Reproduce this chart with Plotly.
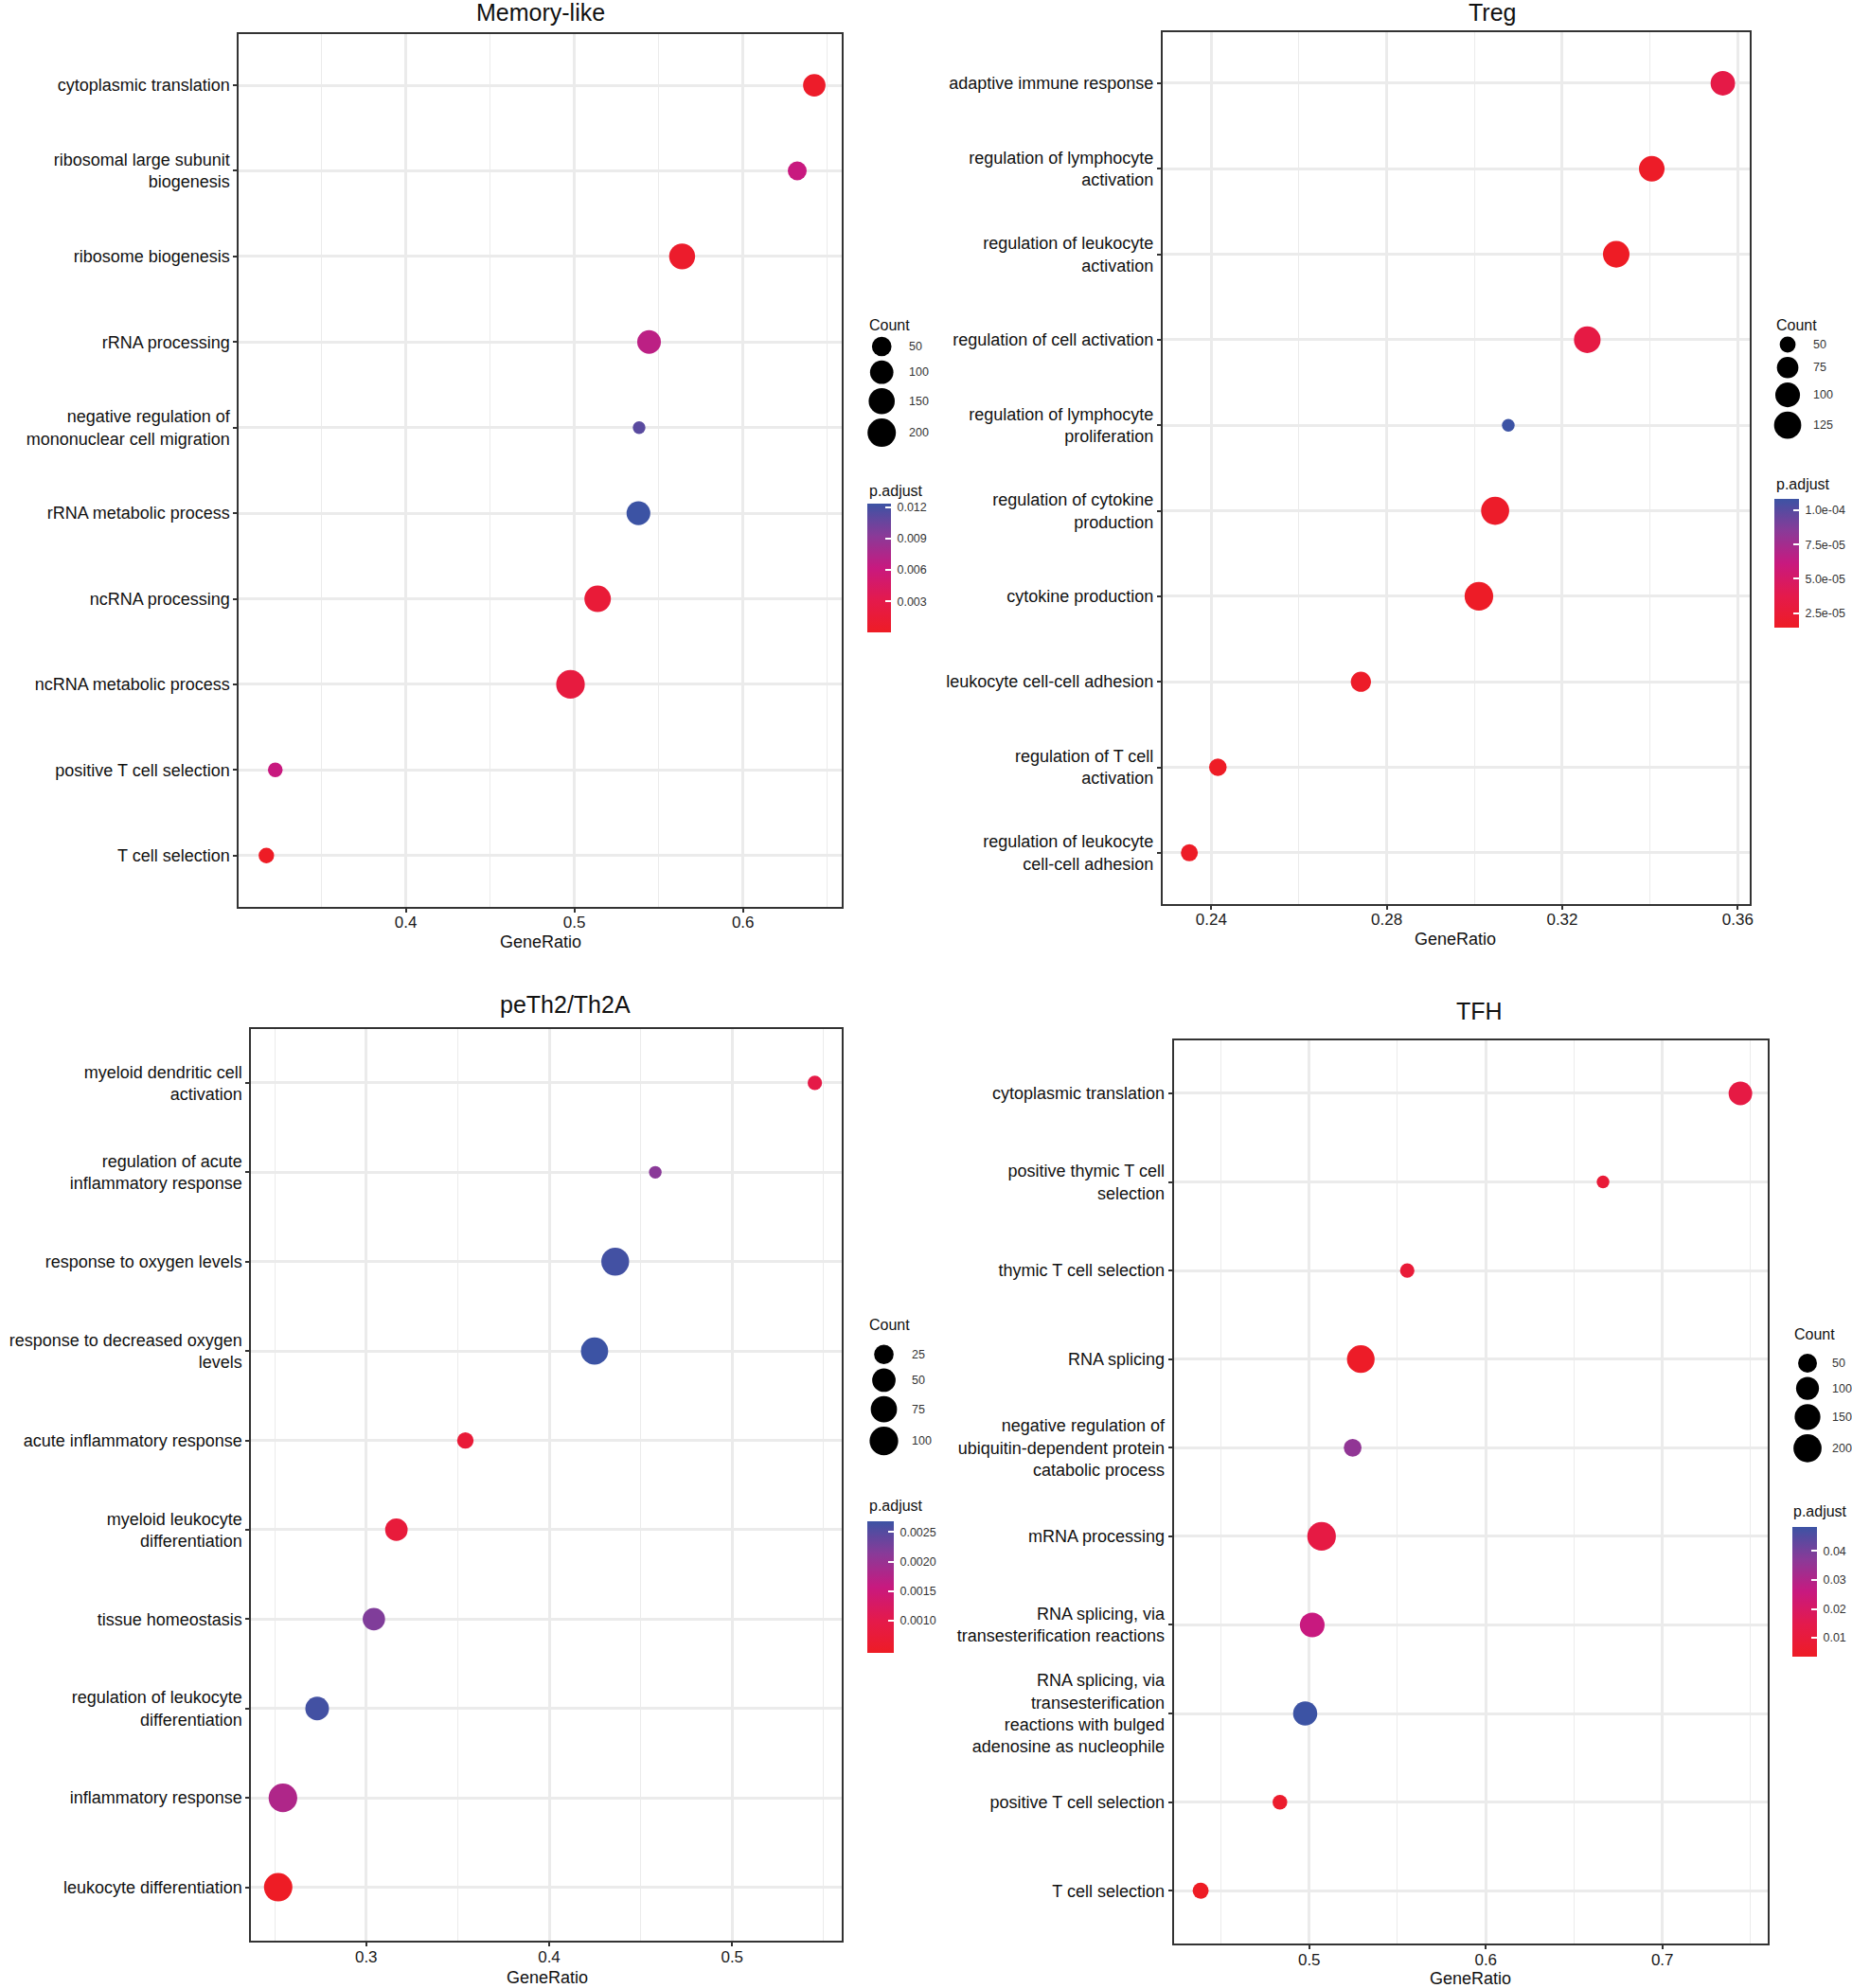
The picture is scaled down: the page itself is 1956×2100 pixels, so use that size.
import plotly.graph_objects as go

W, H = 1956, 2100
FONT = "Liberation Sans"

# ---- data ----
mem_terms = ["cytoplasmic translation", "ribosomal large subunit<br>biogenesis",
             "ribosome biogenesis", "rRNA processing",
             "negative regulation of<br>mononuclear cell migration",
             "rRNA metabolic process", "ncRNA processing", "ncRNA metabolic process",
             "positive T cell selection", "T cell selection"]
mem_ratio = [0.6423, 0.6322, 0.5639, 0.5443, 0.5384, 0.5380, 0.5138, 0.4977, 0.3226, 0.3173]
mem_count = [86, 43, 148, 105, 14, 107, 158, 205, 17, 20]
mem_padj = [0.0004, 0.0062, 0.0006, 0.0068, 0.0112, 0.01236, 0.0015, 0.0021, 0.0062, 0.00002]

treg_terms = ["adaptive immune response", "regulation of lymphocyte<br>activation",
              "regulation of leukocyte<br>activation", "regulation of cell activation",
              "regulation of lymphocyte<br>proliferation", "regulation of cytokine<br>production",
              "cytokine production", "leukocyte cell-cell adhesion",
              "regulation of T cell<br>activation", "regulation of leukocyte<br>cell-cell adhesion"]
treg_ratio = [0.3566, 0.3404, 0.3323, 0.3257, 0.3077, 0.3047, 0.3010, 0.2741, 0.2415, 0.2350]
treg_count = [98, 108, 118, 119, 46, 135, 141, 67, 55, 53]
treg_padj = [3.5e-5, 1.65e-5, 1.46e-5, 3.3e-5, 1.085e-4, 1.75e-5, 1.6e-5, 1.7e-5, 1.55e-5, 1.6e-5]

th2_terms = ["myeloid dendritic cell<br>activation", "regulation of acute<br>inflammatory response",
             "response to oxygen levels", "response to decreased oxygen<br>levels",
             "acute inflammatory response", "myeloid leukocyte<br>differentiation",
             "tissue homeostasis", "regulation of leukocyte<br>differentiation",
             "inflammatory response", "leukocyte differentiation"]
th2_ratio = [0.5452, 0.4580, 0.4361, 0.4248, 0.3542, 0.3165, 0.3042, 0.2732, 0.2545, 0.2519]
th2_count = [9, 8, 91, 85, 13, 43, 42, 52, 100, 98]
th2_padj = [0.00094, 0.00213, 0.00264, 0.002687, 0.00072, 0.00076, 0.0022, 0.00264, 0.00179, 0.00045]

tfh_terms = ["cytoplasmic translation", "positive thymic T cell<br>selection",
             "thymic T cell selection", "RNA splicing",
             "negative regulation of<br>ubiquitin-dependent protein<br>catabolic process",
             "mRNA processing", "RNA splicing, via<br>transesterification reactions",
             "RNA splicing, via<br>transesterification<br>reactions with bulged<br>adenosine as nucleophile",
             "positive T cell selection", "T cell selection"]
tfh_ratio = [0.7442, 0.6664, 0.5555, 0.5292, 0.5246, 0.5070, 0.5017, 0.4977, 0.4834, 0.4385]
tfh_count = [110, 21, 23, 190, 40, 211, 130, 120, 24, 29]
tfh_padj = [0.0124, 0.0088, 0.0088, 0.0044, 0.0357, 0.0124, 0.0258, 0.0482, 0.0057, 0.00346]

mem_count_breaks = [50, 100, 150, 200]
treg_count_breaks = [50, 75, 100, 125]
th2_count_breaks = [25, 50, 75, 100]
tfh_count_breaks = [50, 100, 150, 200]

mem_padj_ticks = [0.003, 0.006, 0.009, 0.012]
mem_padj_labels = ["0.003", "0.006", "0.009", "0.012"]
treg_padj_ticks = [2.5e-5, 5.0e-5, 7.5e-5, 1.0e-4]
treg_padj_labels = ["2.5e-05", "5.0e-05", "7.5e-05", "1.0e-04"]
th2_padj_ticks = [0.0010, 0.0015, 0.0020, 0.0025]
th2_padj_labels = ["0.0010", "0.0015", "0.0020", "0.0025"]
tfh_padj_ticks = [0.01, 0.02, 0.03, 0.04]
tfh_padj_labels = ["0.01", "0.02", "0.03", "0.04"]

# ---- layout (pixel positions in the 1956x2100 page) ----
panels = [
    dict(title="Memory-like", terms=mem_terms, ratio=mem_ratio, count=mem_count, padj=mem_padj,
         breaks=mem_count_breaks, cticks=mem_padj_ticks, clabels=mem_padj_labels, dtick=0.1,
         box=(252.5, 35.8, 889.4, 958), title_xy=(571.6, 13), xlab_xy=(571, 995),
         count_xy=(916, 343), key_x=931.7, key_y0=366, lab_x=958,
         padj_xy=(916, 518), cbar=(915.7, 532, 941, 668)),
    dict(title="Treg", terms=treg_terms, ratio=treg_ratio, count=treg_count, padj=treg_padj,
         breaks=treg_count_breaks, cticks=treg_padj_ticks, clabels=treg_padj_labels, dtick=0.04,
         box=(1228.6, 33.8, 1848.7, 955), title_xy=(1576.8, 13), xlab_xy=(1538, 992),
         count_xy=(1875, 343.3), key_x=1889, key_y0=364, lab_x=1914,
         padj_xy=(1875, 511.7), cbar=(1874, 526.7, 1900, 662.7)),
    dict(title="peTh2/Th2A", terms=th2_terms, ratio=th2_ratio, count=th2_count, padj=th2_padj,
         breaks=th2_count_breaks, cticks=th2_padj_ticks, clabels=th2_padj_labels, dtick=0.1,
         box=(265.6, 1087.3, 889.4, 2050.2), title_xy=(597, 1060.7), xlab_xy=(578, 2089),
         count_xy=(916.7, 1399), key_x=934, key_y0=1430.7, lab_x=961.7,
         padj_xy=(916, 1590), cbar=(916, 1606.7, 944.3, 1746)),
    dict(title="TFH", terms=tfh_terms, ratio=tfh_ratio, count=tfh_count, padj=tfh_padj,
         breaks=tfh_count_breaks, cticks=tfh_padj_ticks, clabels=tfh_padj_labels, dtick=0.1,
         box=(1240.2, 1098.8, 1867.6, 2053.4), title_xy=(1563, 1068.4), xlab_xy=(1554, 2090),
         count_xy=(1894, 1409), key_x=1910, key_y0=1440, lab_x=1934,
         padj_xy=(1893, 1596.7), cbar=(1893.3, 1613.3, 1919.3, 1750)),
]

DMIN, DMAX = 13.4, 30.2   # dot diameter range in px
KEY_GAP = 4.5
GRID = "#EBEBEB"
LINE = "#333333"
SCALE = [[0.0, "#EE1C25"], [0.25, "#E41A4C"], [0.5, "#C8197F"],
         [0.75, "#8A3A98"], [1.0, "#3C53A4"]]


def px(x):
    return x / W


def py(y):
    return 1 - y / H


def dot_size(vals, lo, hi):
    out = []
    for v in vals:
        t = min(max((v - lo) / (hi - lo), 0), 1)
        out.append(DMIN + (DMAX - DMIN) * t ** 0.5)
    return out


fig = go.Figure()
annotations = []
layout = {}

for i, p in enumerate(panels, 1):
    sfx = "" if i == 1 else str(i)
    x0, y0, x1, y1 = p["box"]
    lo, hi = min(p["count"]), max(p["count"])
    rlo, rhi = min(p["ratio"]), max(p["ratio"])
    pad = (rhi - rlo) * 0.05

    fig.add_trace(go.Scatter(
        x=p["ratio"], y=p["terms"], mode="markers",
        marker=dict(size=dot_size(p["count"], lo, hi), color=p["padj"],
                    coloraxis="coloraxis" + sfx, line=dict(width=0), opacity=1),
        xaxis="x" + sfx, yaxis="y" + sfx, showlegend=False,
        hovertemplate="%{y}<br>GeneRatio %{x}<extra></extra>"))

    layout["xaxis" + sfx] = dict(
        domain=[px(x0), px(x1)], anchor="y" + sfx,
        range=[rlo - pad, rhi + pad], tick0=0, dtick=p["dtick"],
        showgrid=True, gridcolor=GRID, gridwidth=2.6, zeroline=False,
        minor=dict(dtick=p["dtick"] / 2, showgrid=True, gridcolor=GRID, gridwidth=1.3),
        showline=True, mirror=True, linecolor=LINE, linewidth=2,
        ticks="outside", ticklen=4, tickwidth=2, tickcolor=LINE, ticklabelstandoff=-4,
        tickfont=dict(family=FONT, size=17, color="#1a1a1a"), automargin=False)
    layout["yaxis" + sfx] = dict(
        domain=[py(y1), py(y0)], anchor="x" + sfx,
        type="category", categoryorder="array", categoryarray=p["terms"],
        range=[len(p["terms"]) - 0.4, -0.6],
        showgrid=True, gridcolor=GRID, gridwidth=2.6, zeroline=False,
        showline=True, mirror=True, linecolor=LINE, linewidth=2,
        ticks="outside", ticklen=4, tickwidth=2, tickcolor=LINE,
        tickfont=dict(family=FONT, size=18, color="#111111"), automargin=False)

    cx0, cy0, cx1, cy1 = p["cbar"]
    layout["coloraxis" + sfx] = dict(
        colorscale=SCALE, cmin=min(p["padj"]), cmax=max(p["padj"]),
        colorbar=dict(
            x=px(cx0), xanchor="left", xpad=0,
            y=py((cy0 + cy1) / 2), yanchor="middle", ypad=0,
            len=cy1 - cy0, lenmode="pixels",
            thickness=cx1 - cx0, thicknessmode="pixels",
            outlinewidth=0, tickvals=p["cticks"],
            ticktext=["\u00a0" + t for t in p["clabels"]],
            ticks="inside", ticklen=6, tickwidth=1.5, tickcolor="white",
            tickfont=dict(family=FONT, size=12.5, color="#333333")))

    # text around the panel
    tx, ty = p["title_xy"]
    annotations.append(dict(text=p["title"], x=px(tx), y=py(ty), xref="paper", yref="paper",
                            xanchor="center", yanchor="middle", showarrow=False,
                            font=dict(family=FONT, size=25, color="#111111")))
    gx, gy = p["xlab_xy"]
    annotations.append(dict(text="GeneRatio", x=px(gx), y=py(gy), xref="paper", yref="paper",
                            xanchor="center", yanchor="middle", showarrow=False,
                            font=dict(family=FONT, size=18, color="#111111")))
    for label, (lx, ly) in (("Count", p["count_xy"]), ("p.adjust", p["padj_xy"])):
        annotations.append(dict(text=label, x=px(lx), y=py(ly), xref="paper", yref="paper",
                                xanchor="left", yanchor="middle", showarrow=False,
                                font=dict(family=FONT, size=16, color="#111111")))

    # size legend: keys stacked by their own diameters
    ksz = dot_size(p["breaks"], lo, hi)
    ky = [p["key_y0"]]
    for a, b in zip(ksz[:-1], ksz[1:]):
        ky.append(ky[-1] + (a + b) / 2 + KEY_GAP)
    fig.add_trace(go.Scatter(
        x=[p["key_x"]] * len(ky), y=ky, mode="markers",
        marker=dict(size=ksz, color="black", opacity=1, line=dict(width=0)),
        xaxis="x5", yaxis="y5", showlegend=False, hoverinfo="skip"))
    for v, yy in zip(p["breaks"], ky):
        annotations.append(dict(text=str(v), x=px(p["lab_x"]), y=py(yy), xref="paper",
                                yref="paper", xanchor="left", yanchor="middle",
                                showarrow=False,
                                font=dict(family=FONT, size=12.5, color="#333333")))

layout["xaxis5"] = dict(domain=[0, 1], range=[0, W], visible=False, anchor="y5")
layout["yaxis5"] = dict(domain=[0, 1], range=[H, 0], visible=False, anchor="x5")

fig.update_layout(
    width=W, height=H, margin=dict(l=0, r=0, t=0, b=0),
    paper_bgcolor="white", plot_bgcolor="rgba(0,0,0,0)",
    font=dict(family=FONT), showlegend=False,
    annotations=annotations, **layout)

# page body has a default 8px margin; drop it so the figure fills the window
fig.write_html("out.html", config={"displayModeBar": False},
               post_script="document.body.style.margin='0px';")
